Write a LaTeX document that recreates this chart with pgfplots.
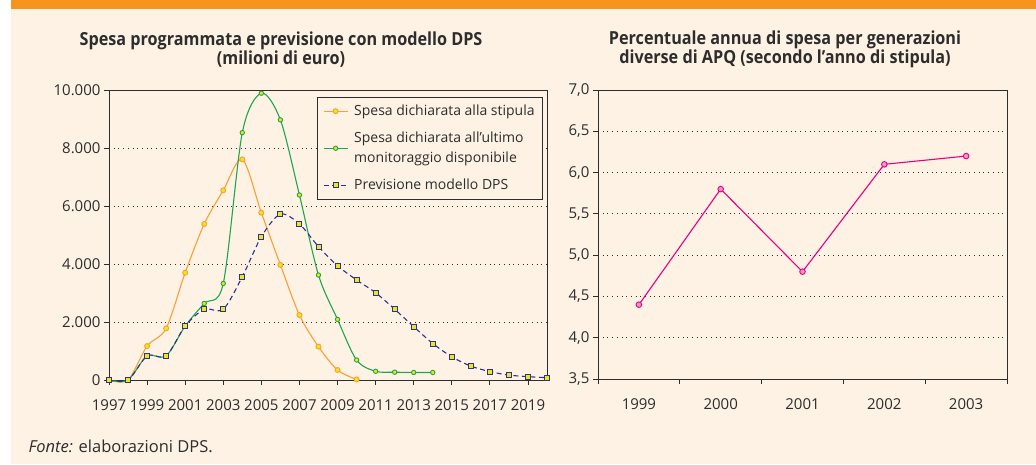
\documentclass[border=0pt]{standalone}
\usepackage{pgfplots}
\pgfplotsset{compat=1.18}
\usepackage{fontspec}
\setmainfont{Open Sans}
\newfontfamily\titlefont[FakeStretch=0.9]{Open Sans}
\definecolor{bg}{RGB}{253,242,228}
\definecolor{topbar}{RGB}{247,148,29}
\definecolor{orln}{RGB}{247,160,55}
\definecolor{grln}{RGB}{30,165,80}
\definecolor{blln}{RGB}{46,49,146}
\definecolor{ylw}{RGB}{240,230,20}
\definecolor{pink}{RGB}{230,0,126}
\definecolor{pinkfill}{RGB}{245,150,200}
\definecolor{txt}{RGB}{45,45,45}
\begin{document}
\begin{tikzpicture}
\fill[white] (0pt,0pt) rectangle (1036pt,-464pt);
\fill[bg] (11pt,-9pt) rectangle (1036pt,-464pt);
\fill[topbar] (11pt,0pt) rectangle (1036pt,-9pt);

\node[font=\titlefont\bfseries\fontsize{18}{19}\selectfont, align=center, text=txt] at (281pt,-49.5pt) {Spesa programmata e previsione con modello DPS\\(milioni di euro)};
\node[font=\titlefont\bfseries\fontsize{18}{19}\selectfont, align=center, text=txt] at (785pt,-49.5pt) {Percentuale annua di spesa per generazioni\\diverse di APQ (secondo l’anno di stipula)};
\node[anchor=west, font=\fontsize{16.5}{18}\selectfont, text=txt] at (25pt,-446pt) {\textit{Fonte:} elaborazioni DPS.};

\pgfplotsset{every axis/.append style={
  scale only axis,
  anchor=south west,
  tick align=outside,
  xtick pos=bottom, ytick pos=left,
  major tick length=5pt,
  minor tick length=5pt,
  axis line style={txt, line width=1pt},
  tick style={txt, line width=0.8pt},
  ticklabel style={font=\fontsize{15}{17}\selectfont, text=txt},
  /pgf/number format/assume math mode=true,
  ymajorgrids,
  grid style={txt, line width=0.9pt, dash pattern=on 0.9pt off 3.8pt},
  axis background/.style={fill=bg},
  clip=false,
}}

\begin{axis}[
  at={(109pt,-380pt)}, width=438pt, height=290pt,
  xmin=1997, xmax=2020, ymin=0, ymax=10000,
  xtick={1997,1999,...,2019},
  ytick={0,2000,...,10000},
  scaled y ticks=false,
  xticklabel style={/pgf/number format/1000 sep={}, yshift=-11pt},
  yticklabel style={/pgf/number format/1000 sep={.}},
  legend style={at={(0.991,0.977)}, anchor=north east, fill=bg, draw=txt, line width=0.8pt,
    font=\fontsize{14}{20}\selectfont, text=txt, cells={align=left}, row sep=11pt,
    inner xsep=6pt, inner ysep=6pt,
    /tikz/every odd column/.append style={column sep=4pt}},
  legend cell align=left,
  legend image code/.code={\draw[mark repeat=2,mark phase=2] plot coordinates {(0pt,0pt)(12pt,0pt)(24pt,0pt)};},
]
\addplot[orln, line width=1.1pt, smooth, mark=*, mark size=2.5pt,
  mark options={fill=ylw, draw=orln, line width=0.9pt, solid}] coordinates {
(1997,0)(1998,0)(1999,1170)(2000,1780)(2001,3700)(2002,5380)(2003,6540)(2004,7610)(2005,5770)(2006,3970)(2007,2240)(2008,1150)(2009,345)(2010,20)};
\addlegendentry{Spesa dichiarata alla stipula}
\addplot[grln, line width=1.1pt, smooth, mark=*, mark size=2.2pt,
  mark options={fill=ylw, draw=grln, line width=0.9pt, solid}] coordinates {
(1997,0)(1998,0)(1999,830)(2000,830)(2001,1860)(2002,2640)(2003,3330)(2004,8530)(2005,9890)(2006,8970)(2007,6380)(2008,3620)(2009,2090)(2010,690)(2011,300)(2012,270)(2013,260)(2014,260)};
\addlegendentry{Spesa dichiarata all'ultimo\\monitoraggio disponibile}
\addplot[blln, line width=1.1pt, smooth, dash pattern=on 5pt off 3.5pt, mark=square*, mark size=2.5pt,
  mark options={fill=ylw, draw=blln, line width=0.9pt, solid}] coordinates {
(1997,0)(1998,0)(1999,830)(2000,830)(2001,1860)(2002,2440)(2003,2440)(2004,3560)(2005,4940)(2006,5720)(2007,5380)(2008,4600)(2009,3940)(2010,3450)(2011,3010)(2012,2440)(2013,1840)(2014,1260)(2015,800)(2016,480)(2017,290)(2018,170)(2019,115)(2020,80)};
\addlegendentry{Previsione modello DPS}
\end{axis}

\begin{axis}[
  at={(598pt,-379pt)}, width=409pt, height=289pt,
  xmin=-0.5, xmax=4.5, ymin=3.5, ymax=7,
  xtick={0,...,4}, xticklabels={1999,2000,2001,2002,2003},
  major x tick style={draw=none},
  minor xtick={-0.5,0.5,...,4.5},
  ytick={3.5,4,...,7},
  xticklabel style={yshift=-11pt},
  yticklabel style={/pgf/number format/.cd, fixed, fixed zerofill, precision=1, use comma},
]
\addplot[pink, line width=1.1pt, mark=*, mark size=2.8pt,
  mark options={fill=pinkfill, draw=pink, line width=0.9pt}] coordinates {
(0,4.4)(1,5.8)(2,4.8)(3,6.1)(4,6.2)};
\end{axis}

\pgfresetboundingbox
\path (0pt,0pt) rectangle (1036pt,-464pt);
\end{tikzpicture}
\end{document}
